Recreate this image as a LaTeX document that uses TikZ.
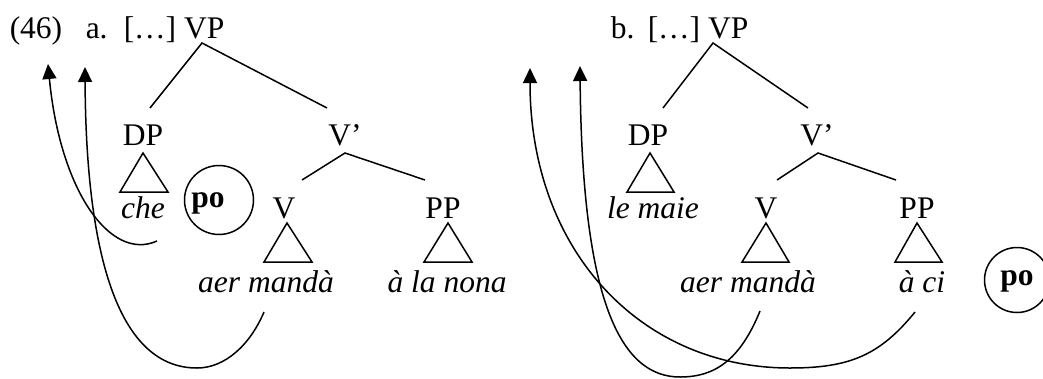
\documentclass[tikz,border=0pt]{standalone}
\usepackage{fontspec}
\setmainfont{Liberation Serif}
\usetikzlibrary{arrows.meta}
\begin{document}
\begin{tikzpicture}[x=1pt,y=-1pt, line width=1.5pt,
  lbl/.style={anchor=base, inner sep=0pt, font=\fontsize{31.5}{36}\selectfont},
  lblw/.style={lbl, anchor=base west},
  it/.style={anchor=base, inner sep=0pt, font=\fontsize{31.5}{36}\selectfont\itshape},
  bd/.style={anchor=base, inner sep=0pt, font=\fontsize{31.5}{36}\selectfont\bfseries},
  mv/.style={-{Triangle[length=15pt,width=14pt]}},
  ring/.style={draw, circle, inner sep=0pt},
  tri/.style={line join=miter},
]
\useasboundingbox (0,0) rectangle (1043,378);

% ---------- (46) a. ----------
\node[lblw] (num) at (9,38) {(46)};
\node[lblw] (la) at (85,38) {a.};
\node[lblw] (vpa) at (123,38) {[…] VP};
\node[lbl] (dpa) at (143,145) {DP};
\node[lbl] (vba) at (345,145) {V’};
\node[lbl] (va) at (284,218) {V};
\node[lbl] (ppa) at (443,218) {PP};
\node[it] (chea) at (143,218) {che};
\node[it] (ama) at (266,292) {aer mandà};
\node[it] (nona) at (447,292) {à la nona};
\node[ring, minimum size=69pt] (ringa) at (219,200) {};
\node[bd] (poa) at (208,207) {po};

\coordinate (a-vp) at (202,43);
\coordinate (a-dp) at (150,108);
\coordinate (a-vb) at (327,108);
\coordinate (a-vbt) at (345,153);
\coordinate (a-v) at (302,180);
\coordinate (a-pp) at (425,180);
\draw (a-dp) -- (a-vp) -- (a-vb);
\draw (a-v) -- (a-vbt) -- (a-pp);
\draw[tri] (143,153) -- (120,192) -- (168,192) -- cycle;
\draw[tri] (287,223) -- (264,262) -- (312,262) -- cycle;
\draw[tri] (448,223) -- (424,262) -- (472,262) -- cycle;

\coordinate (a1s) at (157,241);
\coordinate (a1e) at (48,64);
\coordinate (a2s) at (264,312);
\coordinate (a2m) at (197,368);
\coordinate (a2e) at (85,67);
\draw[mv] (a1s) .. controls (110,262) and (60,190) .. (a1e);
\draw[mv] (a2s) .. controls (250,345) and (225,368) .. (a2m)
  .. controls (120,368) and (86,260) .. (a2e);

% ---------- b. ----------
\node[lblw] (lb) at (610,38) {b.};
\node[lblw] (vpb) at (647,38) {[…] VP};
\node[lbl] (dpb) at (648,145) {DP};
\node[lbl] (vbb) at (817,145) {V’};
\node[lbl] (vb) at (766,218) {V};
\node[lbl] (ppb) at (917,218) {PP};
\node[it] (maie) at (653,218) {le maie};
\node[it] (amb) at (748,292) {aer mandà};
\node[it] (aci) at (922,292) {à ci};
\node[ring, minimum size=65pt] (ringb) at (1017,280) {};
\node[bd] (pob) at (1017,285) {po};

\coordinate (b-vp) at (713,43);
\coordinate (b-dp) at (663,108);
\coordinate (b-vb) at (808,108);
\coordinate (b-vbt) at (818,153);
\coordinate (b-v) at (777,180);
\coordinate (b-pp) at (896,180);
\draw (b-dp) -- (b-vp) -- (b-vb);
\draw (b-v) -- (b-vbt) -- (b-pp);
\draw[tri] (650,153) -- (627,192) -- (674,192) -- cycle;
\draw[tri] (766,223) -- (742,262) -- (789,262) -- cycle;
\draw[tri] (917,223) -- (895,262) -- (942,262) -- cycle;

\coordinate (b1s) at (915,312);
\coordinate (b1m) at (790,368);
\coordinate (b1e) at (530,68);
\coordinate (b2s) at (760,311);
\coordinate (b2m) at (680,377);
\coordinate (b2e) at (580,66);
\draw[mv] (b1s) .. controls (880,355) and (850,368) .. (b1m)
  .. controls (640,368) and (530,250) .. (b1e);
\draw[mv] (b2s) .. controls (740,360) and (715,377) .. (b2m)
  .. controls (620,377) and (582,300) .. (b2e);
\end{tikzpicture}
\end{document}
